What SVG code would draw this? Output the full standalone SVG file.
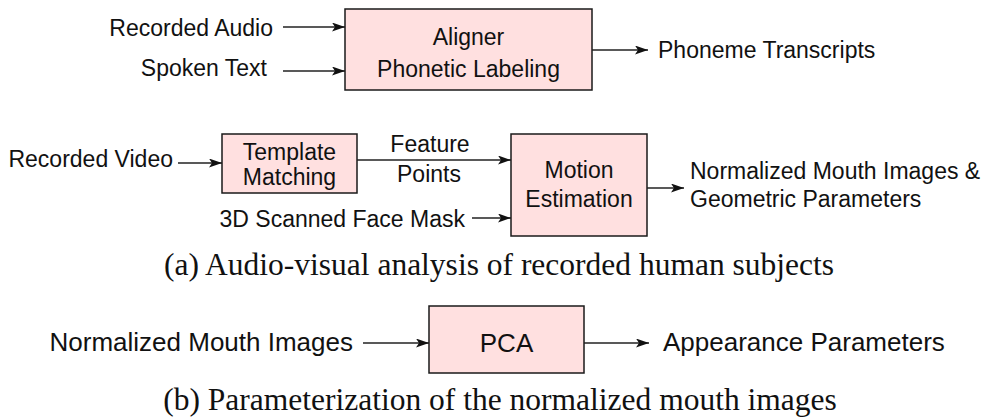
<svg xmlns="http://www.w3.org/2000/svg" width="986" height="419" viewBox="0 0 986 419">
  <style>
    .box { fill: #ffe0e0; stroke: #1a1a1a; stroke-width: 1.5; }
    .lbl { font-family: "Liberation Sans", Arial, sans-serif; font-size: 23px; fill: #111; }
    .lblb { font-family: "Liberation Sans", Arial, sans-serif; font-size: 26px; fill: #111; }
    .cap { font-family: "Liberation Serif", "Times New Roman", serif; font-size: 31.5px; fill: #111; text-anchor: middle; }
    .mid { text-anchor: middle; }
    .end { text-anchor: end; }
    .edge { stroke: #222; stroke-width: 1.4; fill: none; marker-end: url(#arrow); }
  </style>
  <defs>
    <marker id="arrow" markerUnits="userSpaceOnUse" markerWidth="14" markerHeight="10" refX="13" refY="4.5" orient="auto">
      <path d="M0,0 L13,4.5 L0,9 L3,4.5 z" fill="#111"/>
    </marker>
  </defs>

  <!-- (a) audio-visual analysis -->
  <g id="aligner">
    <rect class="box" x="345" y="9" width="247" height="81"/>
    <text class="lbl mid" x="468.5" y="45">Aligner</text>
    <text class="lbl mid" x="468.5" y="77">Phonetic Labeling</text>
  </g>
  <g id="template-matching">
    <rect class="box" x="222" y="134" width="135" height="59"/>
    <text class="lbl mid" x="289.5" y="160">Template</text>
    <text class="lbl mid" x="289.5" y="185">Matching</text>
  </g>
  <g id="motion-estimation">
    <rect class="box" x="511" y="134" width="136" height="102"/>
    <text class="lbl mid" x="579" y="178">Motion</text>
    <text class="lbl mid" x="579" y="207">Estimation</text>
  </g>

  <!-- (b) parameterization -->
  <g id="pca">
    <rect class="box" x="429" y="306" width="155" height="67"/>
    <text class="lblb mid" x="506.5" y="352">PCA</text>
  </g>

  <g id="connectors">
    <line class="edge" x1="283" y1="27" x2="345" y2="27"/>
    <line class="edge" x1="283" y1="71" x2="345" y2="71"/>
    <line class="edge" x1="592" y1="50" x2="648" y2="50"/>
    <line class="edge" x1="178" y1="163" x2="222" y2="163"/>
    <line class="edge" x1="357" y1="160" x2="511" y2="160"/>
    <line class="edge" x1="472" y1="218" x2="511" y2="218"/>
    <line class="edge" x1="647" y1="188" x2="684" y2="188"/>
    <line class="edge" x1="363" y1="343" x2="429" y2="343"/>
    <line class="edge" x1="584" y1="343" x2="649" y2="343"/>
  </g>

  <g id="labels">
    <text class="lbl end" x="273" y="36">Recorded Audio</text>
    <text class="lbl end" x="267" y="76">Spoken Text</text>
    <text class="lbl" x="658" y="58">Phoneme Transcripts</text>
    <text class="lbl end" x="173" y="167">Recorded Video</text>
    <text class="lbl mid" x="430" y="152">Feature</text>
    <text class="lbl mid" x="429" y="182">Points</text>
    <text class="lbl end" x="465" y="227">3D Scanned Face Mask</text>
    <text class="lbl" x="690" y="179">Normalized Mouth Images &amp;</text>
    <text class="lbl" x="690" y="207">Geometric Parameters</text>
    <text class="lblb end" x="353" y="351">Normalized Mouth Images</text>
    <text class="lblb" x="663" y="351">Appearance Parameters</text>
  </g>

  <text class="cap" x="499" y="275">(a) Audio-visual analysis of recorded human subjects</text>
  <text class="cap" x="500" y="410">(b) Parameterization of the normalized mouth images</text>
</svg>
